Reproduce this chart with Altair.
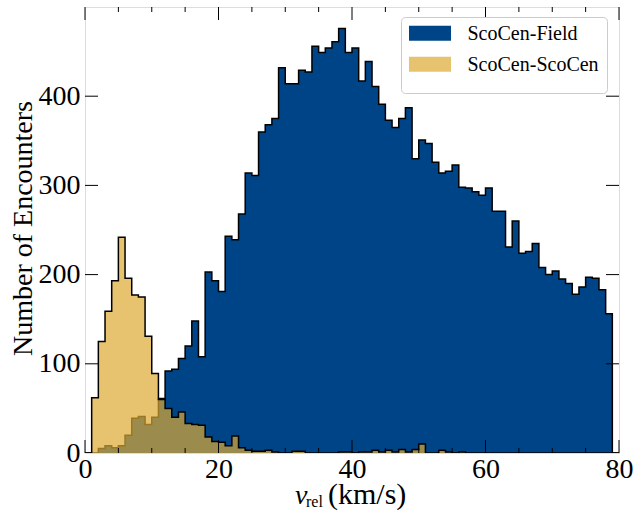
import altair as alt
import pandas as pd

# Histogram counts per 1 km/s bin, bins [0,1), [1,2), ... [79,80)
field_counts = [
    0, 0, 5, 8, 6, 8, 20, 39, 41, 32,
    40, 61, 92, 94, 106, 120, 148, 108, 203, 193,
    181, 243, 239, 268, 314, 311, 360, 368, 375, 432,
    414, 414, 429, 427, 456, 449, 454, 461, 476, 449,
    454, 417, 439, 411, 391, 373, 365, 375, 387, 330,
    351, 347, 326, 314, 316, 323, 298, 297, 293, 289,
    297, 271, 271, 231, 260, 224, 226, 235, 208, 200,
    204, 195, 190, 178, 186, 197, 196, 183, 156, 0,
]
scocen_counts = [
    0, 62, 125, 159, 193, 242, 196, 177, 175, 131,
    89, 60, 50, 40, 46, 33, 32, 31, 18, 13,
    12, 8, 19, 6, 3, 2, 2, 3, 1, 0,
    0, 2, 2, 0, 0, 0, 0, 0, 1, 1,
    0, 1, 1, 3, 1, 3, 1, 4, 1, 4,
    10, 0, 0, 3, 1, 0, 1, 0, 0, 0,
    0, 0, 0, 0, 0, 0, 0, 0, 0, 0,
    0, 0, 0, 0, 0, 0, 0, 0, 0, 0,
]
bin_edges = list(range(0, 81))
series_names = ["ScoCen-Field", "ScoCen-ScoCen"]

x_major = [0, 20, 40, 60, 80]
x_minor = [5, 10, 15, 25, 30, 35, 45, 50, 55, 65, 70, 75]
y_major = [0, 100, 200, 300, 400]

W, H = 534, 446
FONT = "Liberation Serif"
BLUE = "#004488"
YELLOW = "#DDAA33"

# step-after needs a closing point at the right edge of the last bin
df = pd.DataFrame({
    "v": bin_edges,
    "field": field_counts + [field_counts[-1]],
    "scocen": scocen_counts + [scocen_counts[-1]],
    "series": series_names[0],
})

xs = alt.Scale(domain=[0, 80], nice=False, zero=False)
ys = alt.Scale(domain=[0, 500], nice=False)

xaxis = alt.Axis(values=x_major, format="d", ticks=False, domain=False, grid=False,
                 labelFont=FONT, labelFontSize=28, labelColor="black",
                 labelPadding=2, labelFlush=False, labelOverlap=False, title=None)
yaxis = alt.Axis(values=y_major, format="d", ticks=False, domain=False, grid=False,
                 labelFont=FONT, labelFontSize=28, labelColor="black",
                 labelPadding=5, labelFlush=False, labelOverlap=False,
                 title="Number of Encounters", titleFont=FONT, titleFontSize=28,
                 titleFontWeight="normal", titleColor="black",
                 titleX=-54, titleY=H / 2 - 2, titleAngle=270,
                 titleBaseline="alphabetic", titleAlign="center")


def X(f):
    return alt.X(f"{f}:Q", scale=xs, axis=xaxis)


def Y(f):
    return alt.Y(f"{f}:Q", scale=ys, axis=yaxis)


base = alt.Chart(df)

legend = alt.Legend(
    title=None, orient="none", legendX=316, legendY=10,
    fillColor="white", strokeColor="#cccccc", cornerRadius=4, padding=8,
    labelFont=FONT, labelFontSize=20, labelColor="black",
    labelBaseline="alphabetic", labelOffset=23,
    symbolType="M0,-1M0,1M-1.4483,-0.952H1.4483V0.083H-1.4483Z",
    symbolSize=841, symbolStrokeWidth=0, symbolOffset=6.5, rowPadding=0,
)

field_fill = base.mark_area(interpolate="step-after", clip=True).encode(
    x=X("v"), y=Y("field"),
    color=alt.Color("series:N",
                    scale=alt.Scale(domain=series_names, range=[BLUE, "#E7C370"]),
                    legend=legend),
)
field_edge = base.mark_line(interpolate="step-after", color="black",
                            strokeWidth=1.5, clip=True).encode(x=X("v"), y=Y("field"))
scocen_fill = base.mark_area(interpolate="step-after", color=YELLOW,
                             opacity=0.7, clip=True).encode(x=X("v"), y=Y("scocen"))
scocen_edge = base.mark_line(interpolate="step-after", color="black",
                             strokeWidth=1.5, clip=True).encode(x=X("v"), y=Y("scocen"))


def xticks(vals, length):
    d = alt.Chart(pd.DataFrame({"t": vals}))
    bottom = d.mark_rule(color="black", strokeWidth=1).encode(
        x=X("t"), y=alt.value(H), y2=alt.value(H - length))
    top = d.mark_rule(color="black", strokeWidth=1).encode(
        x=X("t"), y=alt.value(0), y2=alt.value(length))
    return [bottom, top]


def yticks(vals, length):
    d = alt.Chart(pd.DataFrame({"t": vals}))
    left = d.mark_rule(color="black", strokeWidth=1).encode(
        y=Y("t"), x=alt.value(0), x2=alt.value(length))
    right = d.mark_rule(color="black", strokeWidth=1).encode(
        y=Y("t"), x=alt.value(W - length), x2=alt.value(W))
    return [left, right]


def label(txt, x, y, size, style="normal"):
    return alt.Chart(pd.DataFrame({"s": [txt]})).mark_text(
        text=txt, font=FONT, fontSize=size, fontStyle=style, color="black",
        align="left", baseline="alphabetic").encode(x=alt.value(x), y=alt.value(y))


layers = [field_fill, field_edge, scocen_fill, scocen_edge]
layers += xticks(x_major, 13) + xticks(x_minor, 5) + yticks(y_major[1:], 13)
# x-axis title: italic v with a roman subscript
layers += [label("v", 210, 497, 28, "italic"),
           label("rel", 221, 500, 16),
           label("(km/s)", 243, 497, 30)]

chart = alt.layer(*layers).properties(
    width=W, height=H,
    autosize=alt.AutoSizeParams(type="none"),
    padding={"left": 85, "top": 7, "right": 636 - 85 - W, "bottom": 510 - 7 - H},
).configure_view(stroke="black", strokeWidth=1).configure(background="white")

chart.save("out.html", embed_options={"renderer": "svg", "actions": False})
